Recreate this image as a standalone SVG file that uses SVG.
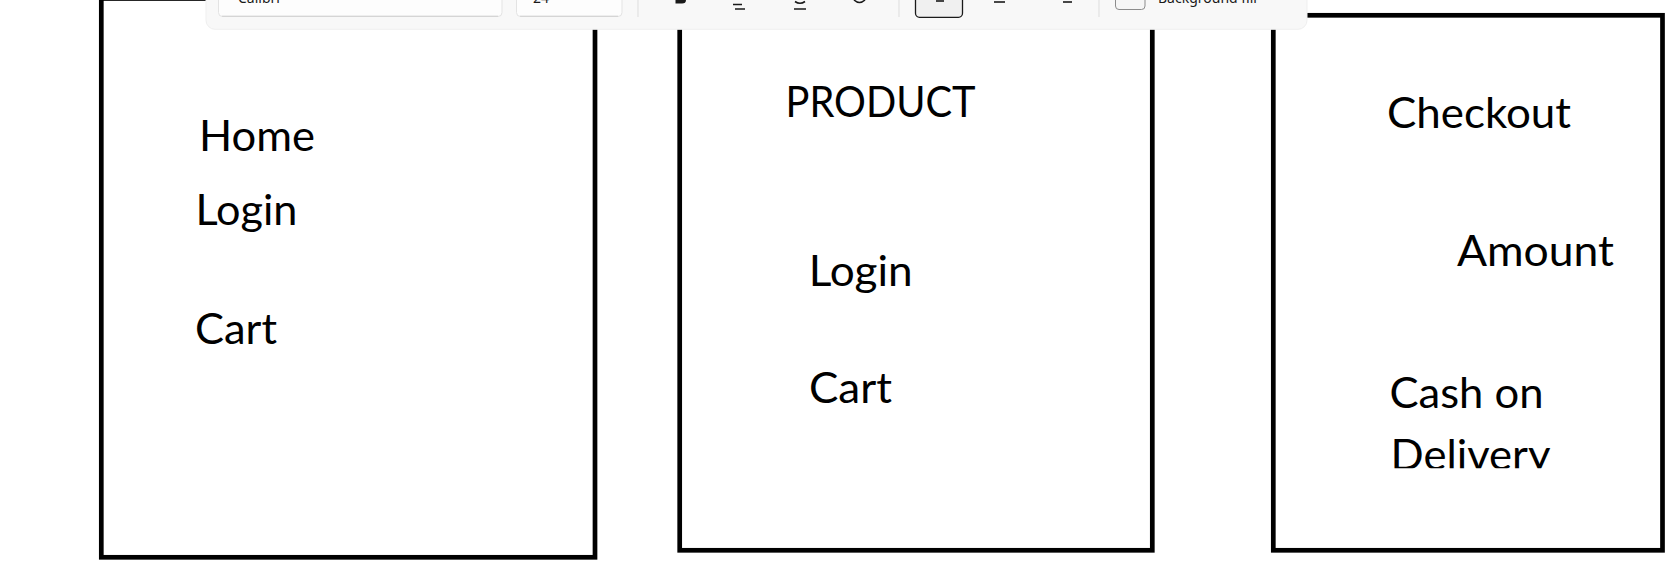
<svg xmlns="http://www.w3.org/2000/svg" width="1674" height="583" viewBox="0 0 1674 583">
  <defs>
    <style>
      .box { fill: #ffffff; stroke: #000000; stroke-width: 4.7; }
      .lbl { font-family: Lato, "Open Sans", "Liberation Sans", sans-serif; font-size: 43px; fill: #000000; }
      .tb { font-family: "Noto Sans", "Open Sans", "Liberation Sans", sans-serif; font-size: 14px; fill: #1a1a1a; }
      .field { fill: #fdfdfd; stroke: #e3e3e3; stroke-width: 1; }
      .sep { stroke: #e2e2e2; stroke-width: 1.2; }
      .ico { stroke: #1a1a1a; stroke-width: 1.6; fill: none; }
    </style>
    <clipPath id="clipDelivery">
      <rect x="1300" y="400" width="340" height="68.3"/>
    </clipPath>
  </defs>
  <rect x="0" y="0" width="1674" height="583" fill="#ffffff"/>

  <g id="node-home-page">
    <rect class="box" x="101.3" y="-1.5" width="493.7" height="558.8"/>
    <text class="lbl" x="199" y="151" textLength="116" lengthAdjust="spacingAndGlyphs">Home</text>
    <text class="lbl" x="195.5" y="225" textLength="102" lengthAdjust="spacingAndGlyphs">Login</text>
    <text class="lbl" x="195" y="343.5" textLength="82" lengthAdjust="spacingAndGlyphs">Cart</text>
  </g>

  <g id="node-product-page">
    <rect class="box" x="679.7" y="14" width="472.6" height="536.3"/>
    <text class="lbl" x="785.5" y="116.7" textLength="190" lengthAdjust="spacingAndGlyphs">PRODUCT</text>
    <text class="lbl" x="808.7" y="285.5" textLength="104" lengthAdjust="spacingAndGlyphs">Login</text>
    <text class="lbl" x="809" y="402.5" textLength="83" lengthAdjust="spacingAndGlyphs">Cart</text>
  </g>

  <g id="node-checkout-page">
    <rect class="box" x="1273.3" y="15.3" width="389.2" height="535"/>
    <text class="lbl" x="1387" y="128" textLength="184" lengthAdjust="spacingAndGlyphs">Checkout</text>
    <text class="lbl" x="1457" y="266" textLength="157" lengthAdjust="spacingAndGlyphs">Amount</text>
    <text class="lbl" x="1389.5" y="408.3" textLength="154" lengthAdjust="spacingAndGlyphs">Cash on</text>
    <text class="lbl" x="1390.5" y="469.5" textLength="160" lengthAdjust="spacingAndGlyphs" clip-path="url(#clipDelivery)">Delivery</text>
  </g>

  <g id="connectors"></g>

  <g id="toolbar">
    <rect x="206" y="-12" width="1101" height="41.3" rx="9" fill="#f8f8f8" stroke="#efefef" stroke-width="1"/>
    <rect class="field" x="218.5" y="-8" width="283.5" height="24.5" rx="4"/>
    <line x1="222" y1="16.2" x2="498" y2="16.2" stroke="#cfcfcf" stroke-width="1"/>
    <rect class="field" x="516.5" y="-8" width="105.5" height="24.5" rx="4"/>
    <line x1="520" y1="16.2" x2="618" y2="16.2" stroke="#cfcfcf" stroke-width="1"/>
    <text class="tb" x="238" y="2.5">Calibri</text>
    <text class="tb" x="533" y="2.5">24</text>
    <line class="sep" x1="638" y1="0" x2="638" y2="17"/>
    <path d="M675.5 0 V3.5 H682 Q686 3.5 686 0" fill="#1a1a1a"/>
    <path class="ico" d="M733 4.5 H742 M735 9 H745"/>
    <path class="ico" d="M795 1.5 Q800 5 805 1.5 M794 9 H806"/>
    <path class="ico" d="M854 0 Q859.5 5 865 0"/>
    <line class="sep" x1="899" y1="0" x2="899" y2="17"/>
    <rect x="915.5" y="-8" width="47" height="25.3" rx="4" fill="#f0f0f0" stroke="#1a1a1a" stroke-width="1.3"/>
    <line class="ico" x1="936" y1="1" x2="944" y2="1"/>
    <line class="ico" x1="994" y1="2" x2="1005" y2="2"/>
    <line class="ico" x1="1063" y1="2" x2="1072" y2="2"/>
    <line class="sep" x1="1099" y1="0" x2="1099" y2="17"/>
    <rect x="1115.5" y="-10" width="29.5" height="19.5" rx="3.5" fill="#f6f6f6" stroke="#8c8c8c" stroke-width="1"/>
    <text class="tb" x="1158" y="3">Background fill</text>
  </g>
</svg>
